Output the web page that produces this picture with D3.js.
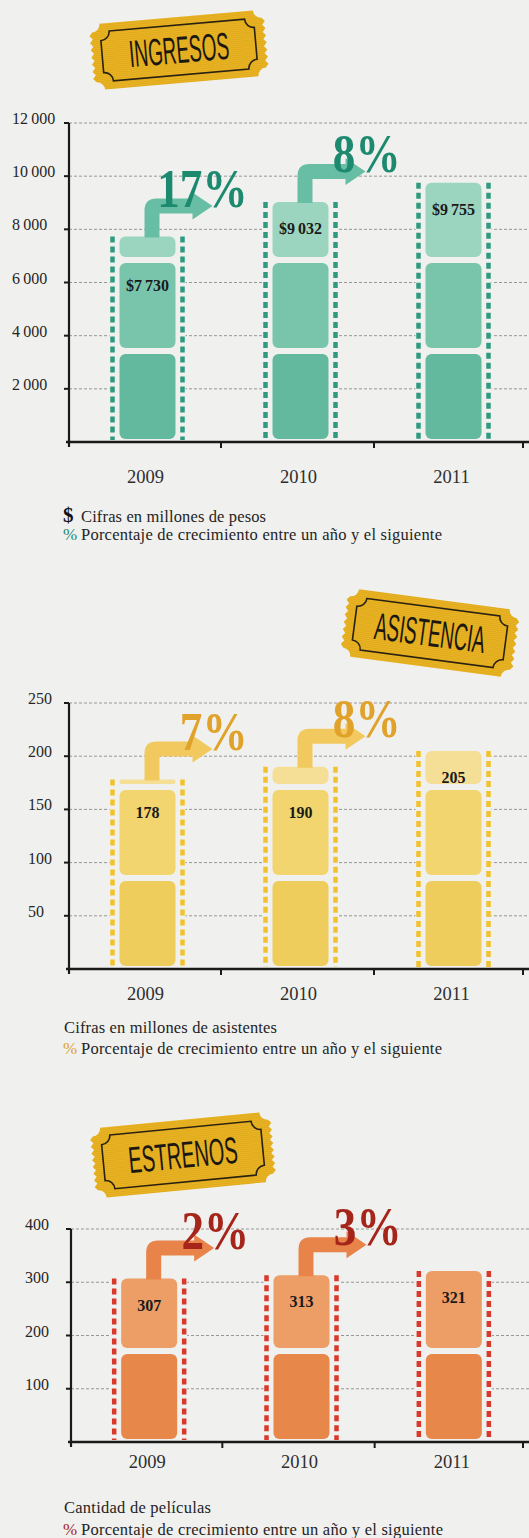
<!DOCTYPE html>
<html>
<head>
<meta charset="utf-8">
<title>Ingresos, asistencia y estrenos</title>
<script src="https://cdn.jsdelivr.net/npm/d3@7"></script>
<style>
  body { margin: 0; background: #f0f0ee; }
  svg { display: block; }
</style>
</head>
<body>
<script>
// ---- data ----
var years = ['2009', '2010', '2011'];

var ingresos = [7730, 9032, 9755];          // millones de pesos
var ingresosGrowth = [17, 8];               // % 2009->2010, 2010->2011
var ingresosTicks = [2000, 4000, 6000, 8000, 10000, 12000];

var asistencia = [178, 190, 205];           // millones de asistentes
var asistenciaGrowth = [7, 8];
var asistenciaTicks = [50, 100, 150, 200, 250];

var estrenos = [307, 313, 321];             // cantidad de películas
var estrenosGrowth = [2, 3];
var estrenosTicks = [100, 200, 300, 400];

var growthNote = 'Porcentaje de crecimiento entre un año y el siguiente';

window.onload = function () {
    var W = 529, H = 1538, BG = '#f0f0ee';
    var serif = "'Liberation Serif', 'Times New Roman', serif";

    var svg = d3.select('body')
        .append('svg')
        .attr('width', W)
        .attr('height', H);

    // faint print lines for the tickets
    svg.append('defs').append('pattern')
        .attr('id', 'scan')
        .attr('width', 4).attr('height', 2)
        .attr('patternUnits', 'userSpaceOnUse')
        .append('rect')
        .attr('width', 4).attr('height', 1)
        .attr('fill', 'rgba(120,80,0,0.10)');

    svg.append('rect').attr('width', W).attr('height', H).attr('fill', BG);

    var thousands = d3.formatLocale({ decimal: ',', thousands: '\u2009', grouping: [3], currency: ['$', ''] });
    var fmt = thousands.format(',');

    var panels = [
        { title: 'ingresos', values: ingresos, growth: ingresosGrowth, ticks: ingresosTicks,
          money: true, y0: 442, y1: 123, axisX: 69, labelX: 12, yearY: 483,
          badge: { x: 179, y: 50, rot: -5, w: 170, h: 66, sx: 0.5 },
          notes: [{ sym: '$', text: 'Cifras en millones de pesos', y: 522, len: 185 },
                  { sym: '%', text: growthNote, y: 540, len: 361 }],
          frames: ['#62b99e', '#79c5ac', '#9bd5bf'], sprocket: '#2f9a7f',
          arrow: '#68bea4', pct: '#1d8a70' },
        { title: 'asistencia', values: asistencia, growth: asistenciaGrowth, ticks: asistenciaTicks,
          money: false, y0: 969, y1: 703, axisX: 69, labelX: 28, yearY: 1000,
          badge: { x: 430, y: 633, rot: 7.5, w: 168, h: 68, sx: 0.49 },
          notes: [{ sym: '', text: 'Cifras en millones de asistentes', y: 1033, len: 213 },
                  { sym: '%', text: growthNote, y: 1054, len: 361 }],
          frames: ['#efcd5c', '#f2d56f', '#f5de96'], sprocket: '#f1c22c',
          arrow: '#f2c95e', pct: '#e0a22a' },
        { title: 'estrenos', values: estrenos, growth: estrenosGrowth, ticks: estrenosTicks,
          money: false, y0: 1442, y1: 1229, axisX: 71, labelX: 25, yearY: 1468,
          badge: { x: 183, y: 1155, rot: -5.5, w: 176, h: 70, sx: 0.53 },
          notes: [{ sym: '', text: 'Cantidad de películas', y: 1513, len: 147 },
                  { sym: '%', text: growthNote, y: 1535, len: 362 }],
          frames: ['#e8874a', '#ec9e66', '#f0b487'], sprocket: '#d8392b',
          arrow: '#e8834a', pct: '#a6251b' }
    ];

    // ticket outline with concave corners, optional serrated sides
    function ticketPath(w, h, n, teeth) {
        var hw = w / 2, hh = h / 2, s = '';
        var steps = Math.round((h - 2 * n) / 7), dy = (h - 2 * n) / steps, i, ya;
        s += 'M' + (-hw + n) + ',' + (-hh) + 'H' + (hw - n);
        s += 'A' + n + ',' + n + ' 0 0 0 ' + hw + ',' + (-hh + n);
        for (i = 0; i < steps && teeth; i++) {
            ya = -hh + n + i * dy;
            s += 'L' + (hw + 3) + ',' + (ya + dy / 2) + 'L' + hw + ',' + (ya + dy);
        }
        s += 'L' + hw + ',' + (hh - n);
        s += 'A' + n + ',' + n + ' 0 0 0 ' + (hw - n) + ',' + hh + 'H' + (-hw + n);
        s += 'A' + n + ',' + n + ' 0 0 0 ' + (-hw) + ',' + (hh - n);
        for (i = 0; i < steps && teeth; i++) {
            ya = hh - n - i * dy;
            s += 'L' + (-hw - 3) + ',' + (ya - dy / 2) + 'L' + (-hw) + ',' + (ya - dy);
        }
        s += 'L' + (-hw) + ',' + (-hh + n);
        s += 'A' + n + ',' + n + ' 0 0 0 ' + (-hw + n) + ',' + (-hh) + 'Z';
        return s;
    }

    // bent arrow: up from the bar top, then right
    function arrowPath(c, top) {
        var a0 = c - 3, a1 = c + 12, t = top - 38, b = t + 15, r = 12, hb = c + 45, tip = c + 65;
        return 'M' + a0 + ',' + (top + 1) +
            'V' + (t + r) + 'Q' + a0 + ',' + t + ' ' + (a0 + r) + ',' + t +
            'H' + hb + 'V' + (t - 6) + 'L' + tip + ',' + (t + 7.5) + 'L' + hb + ',' + (b + 6) +
            'V' + b + 'H' + a1 + 'V' + (top + 1) + 'Z';
    }

    panels.forEach(function (p) {
        var g = svg.append('g');

        var y = d3.scaleLinear()
            .domain([0, d3.max(p.ticks)])
            .range([p.y0, p.y1]);

        var x = d3.scaleBand()
            .domain(years)
            .range([p.axisX - 1, 527]);

        // badge
        var bd = g.append('g')
            .attr('transform', 'translate(' + p.badge.x + ',' + p.badge.y + ') rotate(' + p.badge.rot + ')');
        bd.append('path').attr('d', ticketPath(p.badge.w, p.badge.h, 8, true)).attr('fill', '#eab422');
        bd.append('path').attr('d', ticketPath(p.badge.w, p.badge.h, 8, true)).attr('fill', 'url(#scan)');
        bd.append('path').attr('d', ticketPath(p.badge.w - 16, p.badge.h - 16, 9, false))
            .attr('fill', 'none').attr('stroke', '#2a2112').attr('stroke-width', 1.6);
        bd.append('text')
            .attr('transform', 'translate(0,13) scale(' + p.badge.sx + ',1)')
            .attr('text-anchor', 'middle')
            .style('font-family', "'Liberation Sans Narrow', 'Liberation Sans', sans-serif")
            .style('font-size', '54px')
            .style('font-variant', 'small-caps')
            .attr('fill', '#1b1712')
            .text(p.title);

        // dashed grid lines
        g.selectAll('line.grid')
            .data(p.ticks)
            .enter()
            .append('line')
            .attr('class', 'grid')
            .attr('x1', p.axisX).attr('x2', W)
            .attr('y1', function (d) { return y(d); })
            .attr('y2', function (d) { return y(d); })
            .attr('stroke', '#8c8c8c')
            .attr('stroke-width', 0.9)
            .attr('stroke-dasharray', '3,2');

        // tick labels sit on their grid line
        g.selectAll('text.tick')
            .data(p.ticks)
            .enter()
            .append('text')
            .attr('x', p.labelX)
            .attr('y', function (d) { return y(d) + 1; })
            .style('font-family', serif)
            .style('font-size', '16px')
            .attr('fill', '#262626')
            .text(function (d) { return fmt(d); });

        // bars as film strips
        p.values.forEach(function (v, i) {
            var c = x(years[i]) + x.bandwidth() / 2 + 3;
            var top = y(v);
            var bar = g.append('g');

            bar.append('rect')
                .attr('x', c - 38).attr('width', 76)
                .attr('y', top).attr('height', p.y0 - top)
                .attr('fill', BG);

            [-35, 35].forEach(function (dx) {
                bar.append('line')
                    .attr('x1', c + dx).attr('x2', c + dx)
                    .attr('y1', top).attr('y2', p.y0 - 2)
                    .attr('stroke', p.sprocket)
                    .attr('stroke-width', 4.5)
                    .attr('stroke-dasharray', '6,4');
            });

            // frames 85px tall, 6px apart, stacked from the base and cut at the value
            var frames = [];
            for (var k = 0; ; k++) {
                var fb = p.y0 - 3 - k * 91, ft = fb - 85;
                if (fb <= top + 1) break;
                frames.push({ k: k, y: Math.max(ft, top), h: fb - Math.max(ft, top), ft: ft });
            }
            frames.forEach(function (f) {
                bar.append('rect')
                    .attr('x', c - 28).attr('width', 56)
                    .attr('y', f.y).attr('height', f.h)
                    .attr('rx', Math.min(6, f.h / 2))
                    .attr('fill', p.frames[Math.min(f.k, p.frames.length - 1)]);
            });

            var last = frames[frames.length - 1];
            var ly = last.h < 28 && frames.length > 1 ? frames[frames.length - 2].y + 28 : top + 32;
            bar.append('text')
                .attr('x', c).attr('y', ly)
                .attr('text-anchor', 'middle')
                .style('font-family', serif)
                .style('font-size', '16px')
                .style('font-weight', 'bold')
                .attr('fill', '#1a1a1a')
                .text((p.money ? '$' : '') + fmt(v));

            // growth arrow towards the next year
            if (i < p.growth.length) {
                bar.append('path')
                    .attr('d', arrowPath(c, top))
                    .attr('fill', p.arrow);
                bar.append('text')
                    .attr('transform', 'translate(' + (c + 100) + ',' + (top - 30) + ') scale(0.82,1)')
                    .attr('text-anchor', 'end')
                    .style('font-family', serif)
                    .style('font-size', '55px')
                    .style('font-weight', 'bold')
                    .attr('fill', p.pct)
                    .text(p.growth[i] + '%');
            }
        });

        // axes
        g.append('line')
            .attr('x1', p.axisX).attr('x2', p.axisX)
            .attr('y1', y.range()[1]).attr('y2', p.y0 + 5)
            .attr('stroke', '#1a1a1a').attr('stroke-width', 2.2);
        g.selectAll('line.ytick')
            .data(p.ticks)
            .enter()
            .append('line')
            .attr('x1', p.axisX - 5).attr('x2', p.axisX)
            .attr('y1', function (d) { return y(d); })
            .attr('y2', function (d) { return y(d); })
            .attr('stroke', '#1a1a1a').attr('stroke-width', 2);
        g.append('line')
            .attr('x1', p.axisX - 3).attr('x2', W)
            .attr('y1', p.y0).attr('y2', p.y0)
            .attr('stroke', '#1a1a1a').attr('stroke-width', 2.4);
        g.selectAll('line.xtick')
            .data(years.slice(1).concat(['end']))
            .enter()
            .append('line')
            .attr('x1', function (d) { return d === 'end' ? x.range()[1] - 4 : x(d); })
            .attr('x2', function (d) { return d === 'end' ? x.range()[1] - 4 : x(d); })
            .attr('y1', p.y0).attr('y2', p.y0 + 6)
            .attr('stroke', '#1a1a1a').attr('stroke-width', 2);

        g.selectAll('text.year')
            .data(years)
            .enter()
            .append('text')
            .attr('x', function (d) { return x(d) + x.bandwidth() / 2 + 1; })
            .attr('y', p.yearY)
            .attr('text-anchor', 'middle')
            .style('font-family', serif)
            .style('font-size', '18.5px')
            .attr('fill', '#2e2e2e')
            .text(function (d) { return d; });

        // notes under the chart
        p.notes.forEach(function (n) {
            if (n.sym === '$') {
                g.append('text').attr('x', 63).attr('y', n.y)
                    .style('font-family', serif).style('font-size', '21px').style('font-weight', 'bold')
                    .attr('fill', '#111').text('$');
            } else if (n.sym === '%') {
                g.append('text').attr('x', 63).attr('y', n.y)
                    .style('font-family', serif).style('font-size', '17px')
                    .attr('fill', p.pct).text('%');
            }
            g.append('text')
                .attr('x', n.sym ? 81 : 64).attr('y', n.y)
                .attr('textLength', n.len)
                .style('font-family', serif)
                .style('font-size', '16.5px')
                .attr('fill', '#242424')
                .text(n.text);
        });
    });
};
</script>
</body>
</html>
